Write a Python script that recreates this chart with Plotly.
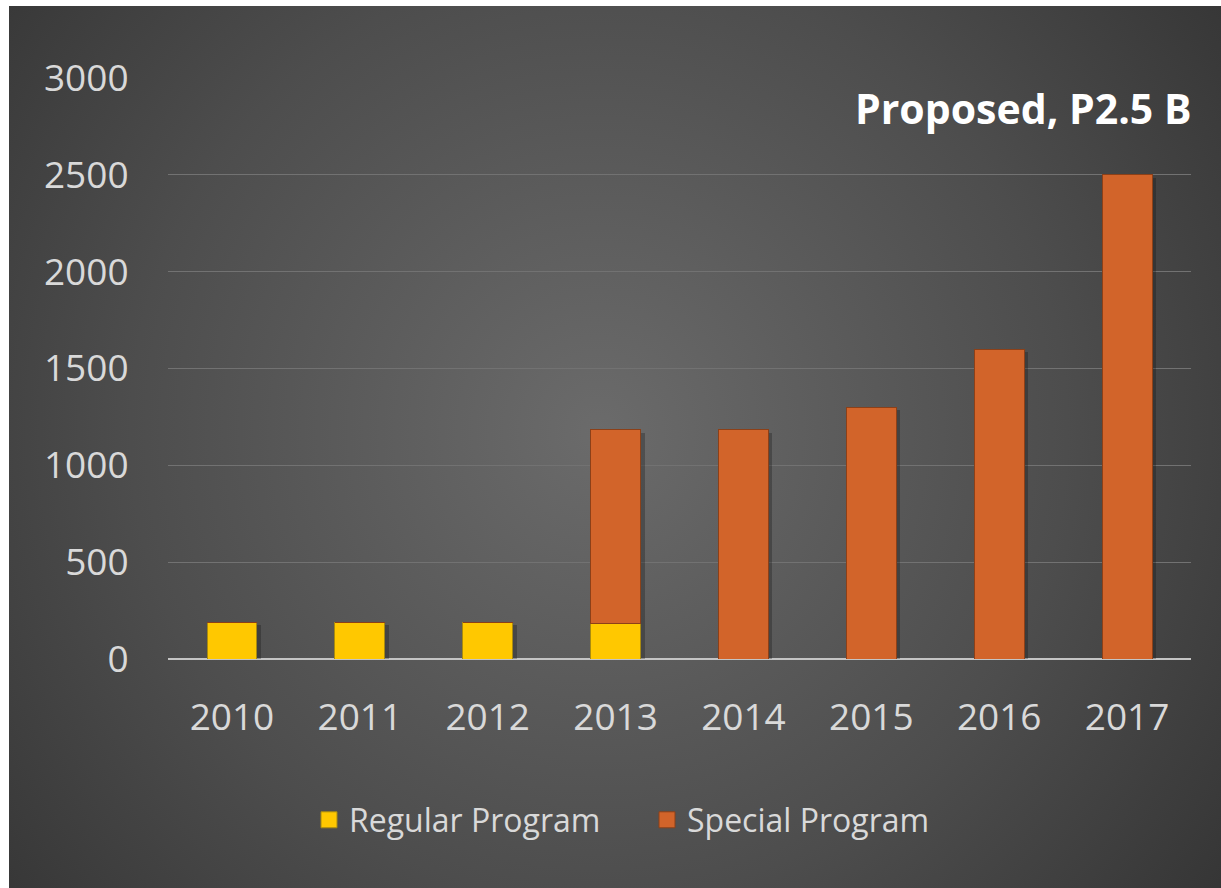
import base64
import plotly.graph_objects as go

# Budget by year (millions of pesos)
years = ["2010", "2011", "2012", "2013", "2014", "2015", "2016", "2017"]
regular_program = [190, 190, 190, 185, 0, 0, 0, 0]
special_program = [0, 0, 0, 1000, 1185, 1300, 1600, 2500]
y_ticks = [0, 500, 1000, 1500, 2000, 2500, 3000]

W, H = 1221, 888
ML, MR, MT, MB = 168, 30, 78, 229
PW, PH = W - ML - MR, H - MT - MB

# Dark radial-gradient panel behind the chart
panel_w, panel_h = W - 9, H - 6
svg = f"""<svg xmlns='http://www.w3.org/2000/svg' width='{panel_w}' height='{panel_h}'>
<defs><radialGradient id='g' gradientUnits='userSpaceOnUse' cx='590' cy='425' r='780'>
<stop offset='0' stop-color='#6b6b6b'/>
<stop offset='0.6' stop-color='#4d4d4d'/>
<stop offset='1' stop-color='#353535'/>
</radialGradient></defs>
<rect width='{panel_w}' height='{panel_h}' fill='url(#g)'/></svg>"""
bg_src = "data:image/svg+xml;base64," + base64.b64encode(svg.encode()).decode()

font_family = "Open Sans, Noto Sans, sans-serif"
text_col = "#d9d9d9"
regular_col, regular_edge = "#FFC800", "#a88a10"
special_col, special_edge = "#D2642A", "#8c4018"

fig = go.Figure()

# Soft drop shadows on the (hidden) base axes, nudged right/down
dx = 4 / (PW / len(years))
dy = 3 * 3000 / PH
for vals in (regular_program, special_program):
    fig.add_trace(go.Bar(
        x=list(range(len(years))), y=vals, xaxis="x", yaxis="y",
        marker=dict(color="rgba(15,15,15,0.28)", line=dict(width=0)),
        width=0.39, showlegend=False, hoverinfo="skip"))

# The stacked bars themselves, on the visible overlaid axes
fig.add_trace(go.Bar(
    x=years, y=regular_program, name="Regular Program", xaxis="x2", yaxis="y2",
    marker=dict(color=regular_col, line=dict(color=regular_edge, width=1)),
    width=0.39, showlegend=False))
fig.add_trace(go.Bar(
    x=years, y=special_program, name="Special Program", xaxis="x2", yaxis="y2",
    marker=dict(color=special_col, line=dict(color=special_edge, width=1)),
    width=0.39, showlegend=False))

# Legend entries with larger square keys
for name, col, edge in (("Regular Program", regular_col, regular_edge),
                        ("Special Program", special_col, special_edge)):
    fig.add_trace(go.Scatter(
        x=[None], y=[None], mode="markers", name=name, xaxis="x2", yaxis="y2",
        marker=dict(symbol="square", size=20, color=col,
                    line=dict(color=edge, width=1))))

fig.add_annotation(
    text="<b>Proposed, P2.5 B</b>", xref="paper", yref="paper",
    x=1.0, y=(659 - 108) / PH, xanchor="right", yanchor="middle", xshift=3,
    showarrow=False, font=dict(family=font_family, size=41, color="#ffffff"))

fig.update_layout(
    width=W, height=H,
    margin=dict(l=ML, r=MR, t=MT, b=MB, pad=0),
    paper_bgcolor="#ffffff",
    plot_bgcolor="rgba(0,0,0,0)",
    barmode="stack",
    font=dict(family=font_family, color=text_col),
    images=[dict(
        source=bg_src, xref="paper", yref="paper",
        x=(9 - ML) / PW, y=(H - MB - 6) / PH,
        sizex=panel_w / PW, sizey=panel_h / PH,
        xanchor="left", yanchor="top", sizing="stretch", layer="below")],
    xaxis=dict(range=[-0.5 - dx, 7.5 - dx], visible=False),
    yaxis=dict(range=[dy, 3000 + dy], visible=False, showgrid=False),
    xaxis2=dict(
        overlaying="x", side="bottom",
        type="category", categoryorder="array", categoryarray=years,
        range=[-0.5, 7.5], showgrid=False, showline=False, zeroline=False,
        ticks="outside", ticklen=26, tickcolor="rgba(0,0,0,0)",
        tickfont=dict(size=37, color=text_col)),
    yaxis2=dict(
        overlaying="y", side="left",
        range=[0, 3000], tickvals=y_ticks, showgrid=True,
        gridcolor="#727272", gridwidth=1, zeroline=True,
        zerolinecolor="#c4c4c4", zerolinewidth=2, showline=False,
        ticks="outside", ticklen=31, tickcolor="rgba(0,0,0,0)",
        tickfont=dict(size=37, color=text_col)),
    legend=dict(
        orientation="h", xanchor="center", yanchor="middle",
        x=(647 - ML) / PW, y=(659 - 820) / PH,
        font=dict(size=32, color=text_col), bgcolor="rgba(0,0,0,0)",
        itemsizing="trace", traceorder="normal",
        entrywidth=293, entrywidthmode="pixels"),
    bargap=0.61,
)

fig.write_html("out.html")
